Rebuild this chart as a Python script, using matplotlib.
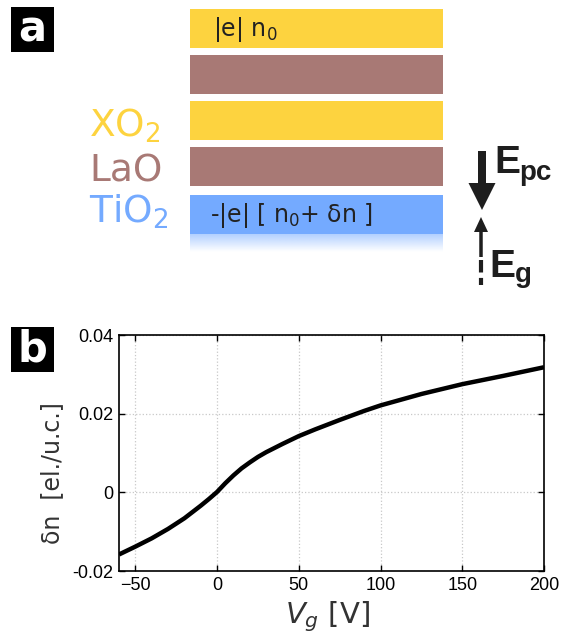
import numpy as np
import matplotlib
matplotlib.use('Agg')
from matplotlib import pyplot as plt
from matplotlib.patches import Rectangle

# panel b: gate voltage vs. induced carrier density
vg = [-60, -50, -40, -30, -20, -15, -10, -5, 0, 5, 10, 15, 20, 25, 30, 40, 50, 60,
      75, 90, 100, 125, 150, 175, 200]
dn = [-0.0158, -0.0138, -0.0117, -0.0093, -0.0066, -0.0050, -0.0034, -0.0017, 0.0001, 0.0023,
      0.0043, 0.0061, 0.0076, 0.0090, 0.0102, 0.0123, 0.0143, 0.0160, 0.0184, 0.0207,
      0.0221, 0.0250, 0.0275, 0.0296, 0.0318]
xticks = [-50, 0, 50, 100, 150, 200]
xticklabels = ['\u221250', '0', '50', '100', '150', '200']
yticks = [-0.02, 0, 0.02, 0.04]
yticklabels = ['-0.02', '0', '0.02', '0.04']

# panel a: layer stack (top to bottom), pixel geometry of the sketch
layer_colors = ['#fdd33f', '#a87975', '#fdd33f', '#a87975', '#74aaff']
layer_tops = [9, 55, 101, 147, 195]
layer_h = 39
layer_x0, layer_x1 = 190, 443
layer_names = ['XO$_2$', 'LaO', 'TiO$_2$']
name_colors = ['#fdd33f', '#a87975', '#74aaff']
name_baselines = [137, 182, 223]

W, H = 569, 642
fig = plt.figure(figsize=(W / 100, H / 100), dpi=100)

# overlay axes in pixel units for the sketch
ax0 = fig.add_axes([0, 0, 1, 1])
ax0.set_xlim(0, W)
ax0.set_ylim(H, 0)
ax0.axis('off')

for top, c in zip(layer_tops, layer_colors):
    ax0.add_patch(Rectangle((layer_x0, top), layer_x1 - layer_x0, layer_h, color=c, lw=0))

# fade below the TiO2 layer
grad = np.ones((32, 2, 4))
grad[:, :, :3] = matplotlib.colors.to_rgb('#74aaff')
grad[:, :, 3] = np.linspace(0.55, 0, 32)[:, None]
ax0.imshow(grad, extent=(layer_x0, layer_x1, 252, 234), aspect='auto', interpolation='bilinear')
ax0.set_xlim(0, W)
ax0.set_ylim(H, 0)

ax0.text(213, 30, '|e| n$_0$', fontsize=17, color='#222222', va='center', ha='left')
ax0.text(210, 215, '-|e| [ n$_0$+ \u03b4n ]', fontsize=17, color='#222222', va='center', ha='left')

for name, c, yb in zip(layer_names, name_colors, name_baselines):
    ax0.text(89, yb, name, fontsize=27, color=c, va='baseline', ha='left')

# field arrows
ax0.arrow(482, 151, 0, 59, width=8, head_width=27, head_length=27,
          length_includes_head=True, color='#1e1e1e', lw=0)
ax0.arrow(481, 257, 0, -40, width=3.5, head_width=14, head_length=15,
          length_includes_head=True, color='#1e1e1e', lw=0)
ax0.plot([481, 481], [260, 285], color='#1e1e1e', lw=3, dashes=(3, 1.3), solid_capstyle='butt')
ax0.text(494, 173, 'E', fontsize=28, fontweight='bold', family='Liberation Sans',
         color='#1e1e1e', va='baseline')
ax0.text(519, 180, 'pc', fontsize=20, fontweight='bold', family='Liberation Sans',
         color='#1e1e1e', va='baseline')
ax0.text(489, 277, 'E', fontsize=28, fontweight='bold', family='Liberation Sans',
         color='#1e1e1e', va='baseline')
ax0.text(515, 282, 'g', fontsize=20, fontweight='bold', family='Liberation Sans',
         color='#1e1e1e', va='baseline')

# panel letters
for letter, (bx, by) in zip(['a', 'b'], [(11, 7), (11, 327)]):
    ax0.add_patch(Rectangle((bx, by), 43, 45, color='black', lw=0))
    ax0.text(bx + 21.5, by + 23, letter, color='white', fontsize=30, fontweight='bold',
             ha='center', va='center')

# panel b
ax = fig.add_axes([119 / W, 1 - 571 / H, 425 / W, 236 / H])
ax.plot(vg, dn, color='black', lw=3.2, solid_capstyle='butt', solid_joinstyle='round')
ax.set_xlim(-60, 200)
ax.set_ylim(-0.02, 0.04)
ax.set_xticks(xticks)
ax.set_xticklabels(xticklabels, family='Liberation Sans', fontsize=13)
ax.set_yticks(yticks)
ax.set_yticklabels(yticklabels, family='Liberation Sans', fontsize=13)
ax.tick_params(direction='in', length=4, width=1, top=True, right=True, pad=4)
ax.grid(True, color='#c8c8c8', ls=':', lw=0.9)
for s in ax.spines.values():
    s.set_linewidth(1.2)

ax.set_ylabel('\u03b4n  [el./u.c.]', fontsize=17, color='#333333', va='center')
ax.yaxis.set_label_coords(-0.158, 0.417)
ax.set_xlabel('$V_g$ [V]', fontsize=21, color='#333333', va='baseline')
ax.xaxis.set_label_coords(0.49, -0.22)

plt.savefig('out.png', dpi=100)
